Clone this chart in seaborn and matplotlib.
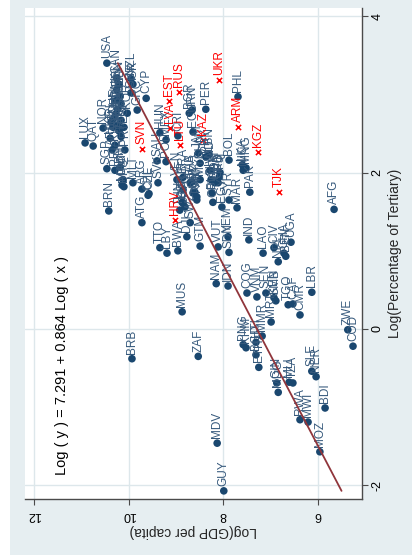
import numpy as np
import pandas as pd
import matplotlib
matplotlib.use("Agg")
import matplotlib.pyplot as plt
import seaborn as sns
from matplotlib.patches import Rectangle

# Countries shown as filled circles: log GDP per capita and log tertiary share
countries = [
    "USA", "NZL", "ISR", "GBR", "CYP", "GRC", "CAN", "FIN", "BEL", "NLD",
    "DNK", "AUS", "SWE", "JPN", "CHE", "IRL", "ISL", "NOR", "AUT", "DEU",
    "FRA", "ITA", "ESP", "KOR", "HKG", "KWT", "ARE", "SGP", "BHR", "PRT",
    "MLT", "BRN", "OMN", "MAC", "BHS", "PRI", "SAU", "CZE", "SVK", "HUN",
    "MEX", "CRI", "POL", "ARG", "CHL", "ATG", "LUX", "QAT", "VEN", "BRA",
    "TUR", "THA", "COL", "MYS", "PAN", "DZA", "TUN", "JOR", "IRN", "BGR",
    "PER", "PHL", "ECU", "BOL", "LKA", "MNG", "NIC", "PAK", "MAR", "EGY",
    "SYR", "SLV", "DOM", "PRY", "JAM", "CHN", "HND", "FJI", "IRQ", "CUB",
    "BLZ", "LBN", "GAB", "URY", "SUR", "TON", "CPV", "TTO", "LBY", "BWA",
    "GTM", "SWZ", "DJI", "IND", "LAO", "CIV", "UGA", "GHA", "BEN", "NPL",
    "AFG", "VUT", "YEM", "SDN", "NAM", "IDN", "COG", "VNM", "SEN", "KEN",
    "GMB", "MRT", "TGO", "CAF", "CMR", "LBR", "MUS", "BRB", "ZAF", "ZWE",
    "COD", "PNG", "KHM", "HTI", "MMR", "BGD", "ETH", "GIN", "MDG", "TZA",
    "MLI", "SLE", "NER", "BDI", "RWA", "MWI", "MOZ", "MDV", "GUY",
]
log_gdp = [
    10.46, 9.95, 9.91, 9.95, 9.63, 9.82, 10.25, 10.20, 10.25, 10.18,
    10.27, 10.16, 10.23, 10.27, 10.31, 10.37, 10.33, 10.54, 10.23, 10.16,
    10.20, 10.16, 10.10, 10.03, 10.39, 10.29, 10.35, 10.46, 10.18, 10.08,
    9.91, 10.42, 10.12, 10.14, 10.10, 10.29, 9.40, 9.57, 9.38, 9.34,
    9.21, 8.96, 9.21, 9.72, 9.59, 9.72, 10.92, 10.75, 8.98, 8.85,
    8.85, 8.66, 8.64, 8.49, 8.56, 8.87, 8.92, 8.81, 8.66, 8.72,
    8.37, 7.69, 8.64, 7.88, 7.60, 7.52, 7.58, 7.44, 7.71, 8.03,
    7.88, 8.26, 8.18, 8.37, 8.53, 8.49, 8.28, 8.07, 8.09, 8.11,
    8.24, 8.30, 8.70, 8.60, 8.85, 8.56, 8.22, 9.34, 9.19, 8.96,
    8.49, 8.70, 8.77, 7.46, 7.16, 6.93, 6.57, 6.72, 6.68, 6.84,
    5.66, 8.11, 7.90, 7.88, 8.15, 7.90, 7.50, 7.29, 7.10, 6.93,
    6.89, 6.99, 6.63, 6.53, 6.38, 6.13, 8.87, 9.93, 8.53, 5.37,
    5.26, 7.58, 7.52, 7.31, 7.18, 7.31, 7.25, 6.87, 6.84, 6.53,
    6.61, 6.13, 6.04, 5.85, 6.38, 6.21, 5.96, 8.13, 7.99,
]
log_tertiary = [
    3.40, 3.20, 3.13, 3.02, 2.95, 2.80, 3.21, 3.13, 3.06, 2.98,
    2.92, 2.88, 2.81, 2.75, 2.70, 2.65, 2.58, 2.57, 2.61, 2.67,
    2.53, 2.46, 2.58, 2.76, 2.44, 2.35, 2.29, 2.05, 2.07, 2.29,
    1.87, 1.51, 1.91, 1.84, 1.82, 2.03, 2.15, 1.73, 1.87, 2.51,
    2.42, 2.47, 2.14, 1.79, 1.71, 1.36, 2.38, 2.34, 1.91, 1.94,
    1.78, 1.88, 1.74, 1.91, 1.69, 1.62, 1.52, 1.56, 2.80, 2.76,
    2.81, 2.97, 2.52, 2.16, 2.10, 2.06, 2.03, 1.75, 1.55, 1.56,
    1.65, 1.91, 1.87, 2.20, 2.25, 2.12, 2.03, 2.00, 1.94, 1.87,
    1.74, 2.23, 1.87, 1.75, 1.61, 1.65, 1.62, 1.04, 0.97, 1.00,
    1.06, 1.36, 1.18, 1.14, 0.97, 1.04, 1.11, 0.97, 0.93, 0.86,
    1.53, 1.05, 1.18, 0.98, 0.58, 0.55, 0.46, 0.41, 0.46, 0.40,
    0.36, 0.09, 0.31, 0.32, 0.18, 0.47, 0.22, -0.38, -0.35, -0.01,
    -0.22, -0.20, -0.24, -0.17, -0.09, -0.33, -0.49, -0.69, -0.81, -0.69,
    -0.68, -0.54, -0.61, -1.01, -1.16, -1.19, -1.57, -1.46, -2.07,
]

# Former socialist economies, drawn as red crosses
transition_countries = ["EST", "RUS", "UKR", "ARM", "KGZ", "TJK", "SVN", "HRV", "KAZ", "LVA", "LTU"]
transition_log_gdp = [9.15, 8.94, 8.09, 7.69, 7.27, 6.82, 9.72, 9.02, 8.43, 9.13, 8.92]
transition_log_tertiary = [2.92, 3.03, 3.18, 2.58, 2.26, 1.75, 2.30, 1.39, 2.42, 2.57, 2.35]

# Fitted relation printed on the chart
intercept = 7.291
slope = 0.864

gdp_ticks = [12, 10, 8, 6]
tertiary_ticks = [-2, 0, 2, 4]

NAVY = "#1A476F"
LABEL_BLUE = "#36597C"
MAROON = "#90353B"
RED = "#FF0000"
BACK = "#E6EEF1"
GRID = "#DDE7EB"
AXIS = "#4A4A4A"

sns.set_theme(style="white")
plt.rcParams["font.family"] = ["Liberation Sans", "DejaVu Sans"]
plt.rcParams["axes.unicode_minus"] = False

fig = plt.figure(figsize=(4.12, 5.6), dpi=100)
fig.patch.set_facecolor("white")
fig.patches.append(Rectangle((10 / 412, 5 / 560), 1 - 10 / 412, 1 - 5 / 560,
                             transform=fig.transFigure, facecolor=BACK,
                             edgecolor="none", zorder=-10))

ax = fig.add_axes([25 / 412, 61 / 560, 337 / 412, 491 / 560])
ax.set_facecolor("white")

main = pd.DataFrame({"country": countries, "gdp": log_gdp, "tert": log_tertiary})
trans = pd.DataFrame({"country": transition_countries, "gdp": transition_log_gdp,
                      "tert": transition_log_tertiary})

sns.scatterplot(data=main, x="gdp", y="tert", ax=ax, color=NAVY, s=30,
                edgecolor="none", linewidth=0, zorder=3, legend=False)
sns.scatterplot(data=trans, x="gdp", y="tert", ax=ax, color=RED, marker="x",
                s=14, linewidth=1.1, zorder=3, legend=False)

for _, r in main.iterrows():
    ax.annotate(r["country"], (r["gdp"], r["tert"]), xytext=(0, 3.5),
                textcoords="offset points", rotation=90, ha="center",
                va="bottom", fontsize=8.5, color=LABEL_BLUE, zorder=4)
for _, r in trans.iterrows():
    ax.annotate(r["country"], (r["gdp"], r["tert"]), xytext=(0, 3.5),
                textcoords="offset points", rotation=90, ha="center",
                va="bottom", fontsize=8.5, color=RED, zorder=4)

# Linear fit over the observed range of tertiary shares
all_tert = np.array(log_tertiary + transition_log_tertiary)
fit = pd.DataFrame({"tert": [all_tert.min(), all_tert.max()]})
fit["gdp"] = intercept + slope * fit["tert"]
sns.lineplot(data=fit, x="gdp", y="tert", sort=False, ax=ax, color=MAROON,
             linewidth=1.3, zorder=5)

ax.set_xlim(12.19, 5.07)
ax.set_ylim(-2.174, 4.105)
ax.set_xticks(gdp_ticks)
ax.set_xticklabels([str(v) for v in gdp_ticks])
ax.set_yticks(tertiary_ticks)
ax.set_yticklabels([str(v) for v in tertiary_ticks])

ax.grid(True, color=GRID, linewidth=1.0)
ax.set_axisbelow(True)
for side in ("left", "top"):
    ax.spines[side].set_visible(False)
for side in ("right", "bottom"):
    ax.spines[side].set_visible(True)
    ax.spines[side].set_color(AXIS)
    ax.spines[side].set_linewidth(1.0)

ax.yaxis.tick_right()
ax.yaxis.set_label_position("right")
ax.tick_params(axis="both", direction="out", length=4, width=0.8, color=AXIS,
               labelsize=9, labelcolor="black", pad=3)
ax.tick_params(axis="x", bottom=True, top=False)
ax.tick_params(axis="y", right=True, left=False)
for lab in ax.get_xticklabels():
    lab.set_rotation(180)
for lab in ax.get_yticklabels():
    lab.set_rotation(90)
    lab.set_va("center")

ax.set_xlabel("Log(GDP per capita)", rotation=180, fontsize=10, labelpad=2)
ax.set_ylabel("Log(Percentage of Tertiary)", rotation=90, fontsize=10, labelpad=3)

ax.text(0.11, 0.049, f"Log ( y ) = {intercept} + {slope} Log ( x )",
        transform=ax.transAxes, rotation=90, ha="center", va="bottom",
        fontsize=10.5, color="black")

fig.savefig("out.png", dpi=100, facecolor=fig.get_facecolor())
